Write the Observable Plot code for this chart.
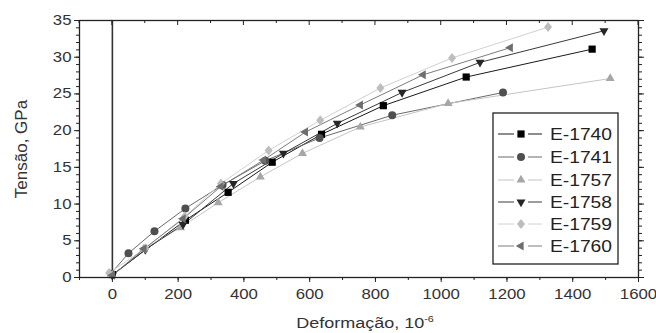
<!DOCTYPE html>
<html><head><meta charset="utf-8">
<script src="https://cdn.jsdelivr.net/npm/d3@7"></script>
<script src="https://cdn.jsdelivr.net/npm/@observablehq/plot@0.6"></script>
<style>
body{margin:0;background:#fff;font-family:"Liberation Sans",Arial,sans-serif}
#c{position:relative;width:656px;height:333px}
</style>
</head><body><div id="c"></div>
<script>
// ---- data ----
const seriesNames = ["E-1740","E-1741","E-1757","E-1758","E-1759","E-1760"];
const e1740x = [0, 222, 352, 486, 636, 824, 1076, 1459];
const e1740y = [0.4, 7.8, 11.6, 15.7, 19.5, 23.4, 27.3, 31.1];
const e1741x = [-5, 49, 128, 222, 335, 465, 630, 851, 1188];
const e1741y = [0.5, 3.3, 6.3, 9.4, 12.6, 15.9, 19.0, 22.1, 25.2];
const e1757x = [0, 95, 207, 322, 450, 578, 754, 1021, 1514];
const e1757y = [0.3, 3.9, 6.8, 10.2, 13.7, 16.9, 20.5, 23.7, 27.1];
const e1758x = [0, 100, 215, 368, 520, 684, 881, 1118, 1495];
const e1758y = [0.3, 3.8, 7.2, 12.8, 16.9, 21.0, 25.2, 29.3, 33.6];
const e1759x = [-10, 100, 220, 330, 475, 632, 815, 1033, 1325];
const e1759y = [0.6, 4.0, 8.3, 12.8, 17.3, 21.4, 25.8, 29.9, 34.1];
const e1760x = [0, 96, 215, 330, 460, 587, 754, 945, 1210];
const e1760y = [0.3, 3.9, 8.0, 12.4, 16.0, 19.8, 23.5, 27.6, 31.3];
const xTicks = [0, 200, 400, 600, 800, 1000, 1200, 1400, 1600];
const yTicks = [0, 5, 10, 15, 20, 25, 30, 35];
const xLabel = "Deformação, 10";
const xLabelSup = "-6";
const yLabel = "Tensão, GPa";

// ---- styles ----
const pointColors = ["#000000", "#4f4f4f", "#a6a6a6", "#262626", "#bdbdbd", "#6e6e6e"];
const lineColors  = ["#1a1a1a", "#6a6a6a", "#c4c4c4", "#3a3a3a", "#d0d0d0", "#7c7c7c"];

function sym(pts){ return {draw(ctx, size){ const r = Math.sqrt(size/Math.PI); pts(ctx, r); ctx.closePath(); }}; }
const sqSym = sym((c,r)=>{const h=r*0.9; c.moveTo(-h,-h); c.lineTo(h,-h); c.lineTo(h,h); c.lineTo(-h,h);});
const ciSym = {draw(c,size){const r=Math.sqrt(size/Math.PI); c.moveTo(r,0); c.arc(0,0,r,0,2*Math.PI);}};
const upSym = sym((c,r)=>{const R=r*1.3; c.moveTo(0,-R); c.lineTo(R*0.866,R*0.5); c.lineTo(-R*0.866,R*0.5);});
const dnSym = sym((c,r)=>{const R=r*1.3; c.moveTo(0,R); c.lineTo(R*0.866,-R*0.5); c.lineTo(-R*0.866,-R*0.5);});
const diSym = sym((c,r)=>{const R=r*1.25; c.moveTo(0,-R); c.lineTo(R*0.8,0); c.lineTo(0,R); c.lineTo(-R*0.8,0);});
const ltSym = sym((c,r)=>{const R=r*1.3; c.moveTo(-R,0); c.lineTo(R*0.5,-R*0.866); c.lineTo(R*0.5,R*0.866);});
const symbols = [sqSym, ciSym, upSym, dnSym, diSym, ltSym];

const xs = [e1740x, e1741x, e1757x, e1758x, e1759x, e1760x];
const ys = [e1740y, e1741y, e1757y, e1758y, e1759y, e1760y];
const series = seriesNames.map((name, i) => ({name, i, pts: xs[i].map((x, j) => ({x, y: ys[i][j], s: name}))}));

const xMinor = d3.range(-100, 1601, 100);
const yMinor = d3.range(0, 36, 1);
const blank = () => "";
const plain = d => String(d);

const marks = [
  Plot.ruleX([0], {stroke: "#333", strokeWidth: 1.6}),
  ...series.map(s => Plot.line(s.pts, {x: "x", y: "y", stroke: lineColors[s.i], strokeWidth: 1})),
  ...series.map(s => Plot.dot(s.pts, {x: "x", y: "y", r: 4, symbol: symbols[s.i], fill: pointColors[s.i], stroke: "none"})),
  Plot.axisX({anchor: "bottom", ticks: xTicks, tickSize: 5, tickPadding: 7, tickFormat: plain, label: null, fontSize: 14, fill: "#333", stroke: "#222"}),
  Plot.axisX({anchor: "bottom", ticks: xMinor, tickSize: 3, tickFormat: blank, label: null, stroke: "#222"}),
  Plot.axisY({anchor: "left", ticks: yTicks, tickSize: 5, tickPadding: 3, tickFormat: plain, label: null, fontSize: 14, fill: "#333", stroke: "#222"}),
  Plot.axisY({anchor: "left", ticks: yMinor, tickSize: 3, tickFormat: blank, label: null, stroke: "#222"}),
  Plot.axisY({anchor: "right", ticks: yTicks, tickSize: 5, tickFormat: blank, label: null, stroke: "#222"}),
  Plot.axisY({anchor: "right", ticks: yMinor, tickSize: 3, tickFormat: blank, label: null, stroke: "#222"}),
  Plot.frame({stroke: "#222", strokeWidth: 1.3})
];

const chart = Plot.plot({
  width: 656, height: 333,
  marginLeft: 79, marginRight: 18, marginTop: 20, marginBottom: 56,
  style: {fontFamily: '"Liberation Sans", Arial, sans-serif', background: "#fff"},
  x: {domain: [-100, 1600]},
  y: {domain: [0, 35]},
  marks
});
document.getElementById("c").appendChild(chart);

const svg = d3.select(chart);
// widen tick labels slightly to match the horizontally stretched original
svg.selectAll("g[aria-label='x-axis tick label'] text, g[aria-label='y-axis tick label'] text").each(function(){
  const t = this.getAttribute("transform") || "";
  this.setAttribute("transform", t + " scale(1.2,1)");
});

// top inward ticks
const xs_ = d3.scaleLinear([-100, 1600], [79, 638]);
svg.append("g").selectAll("line").data(xMinor).join("line")
  .attr("x1", d => xs_(d)).attr("x2", d => xs_(d))
  .attr("y1", 20).attr("y2", d => 20 + (d % 200 === 0 ? 5 : 3))
  .attr("stroke", "#222");

// axis titles
const xt = svg.append("text").attr("x", 365).attr("y", 328).attr("text-anchor", "middle")
  .attr("font-size", 15).attr("fill", "#333");
xt.append("tspan").text(xLabel);
xt.append("tspan").attr("dy", -6).attr("font-size", 9).text(xLabelSup);
xt.attr("transform", "translate(365,0) scale(1.2,1) translate(-365,0)");

svg.append("text").attr("transform", "translate(27,149) rotate(-90)")
  .attr("text-anchor", "middle").attr("font-size", 17).attr("fill", "#333").text(yLabel);

// legend
const lg = svg.append("g");
lg.append("rect").attr("x", 493).attr("y", 113).attr("width", 125).attr("height", 151)
  .attr("fill", "#fff").attr("stroke", "#222").attr("stroke-width", 1.3);
const rowY = [134, 157, 180, 202, 224, 246];
seriesNames.forEach((name, i) => {
  const y = rowY[i];
  lg.append("line").attr("x1", 498).attr("x2", 514).attr("y1", y).attr("y2", y).attr("stroke", lineColors[i]);
  lg.append("line").attr("x1", 528).attr("x2", 542).attr("y1", y).attr("y2", y).attr("stroke", lineColors[i]);
  const p = d3.path(); symbols[i].draw(p, Math.PI * 16);
  lg.append("path").attr("d", p.toString()).attr("transform", `translate(521,${y})`).attr("fill", pointColors[i]);
  lg.append("text").attr("x", 550).attr("y", y + 6).attr("font-size", 16).attr("fill", "#222")
    .attr("text-anchor", "start")
    .attr("textLength", 62).attr("lengthAdjust", "spacingAndGlyphs").text(name);
});
</script>
</body></html>
